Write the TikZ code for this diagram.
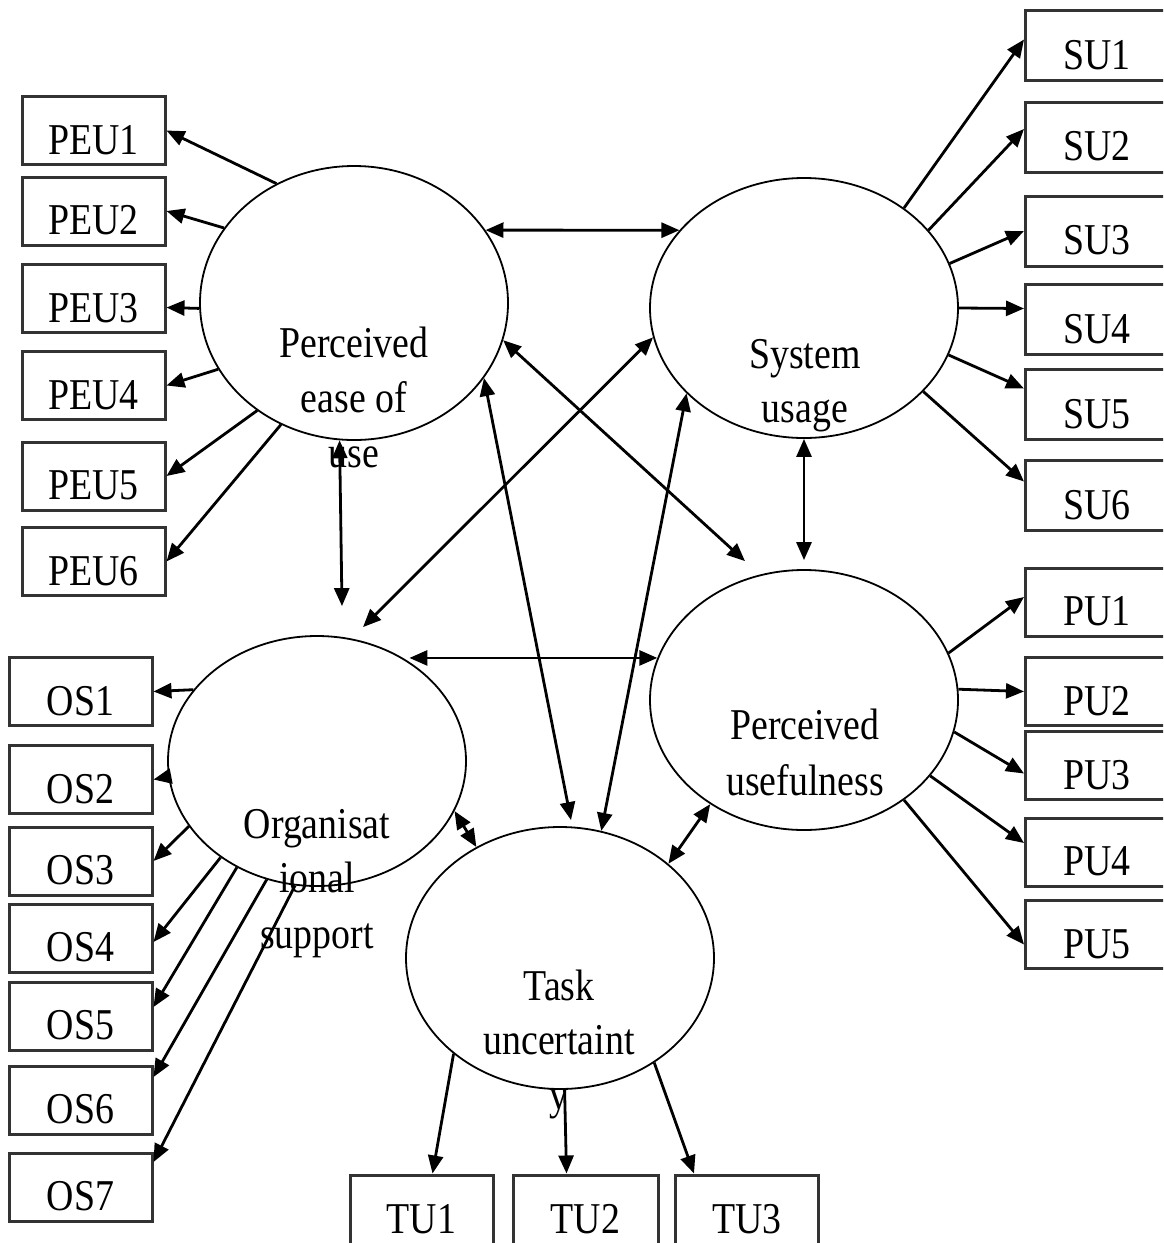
\documentclass[tikz,border=0pt]{standalone}
\usepackage{fontspec}
\setmainfont{Liberation Serif}
\usetikzlibrary{shapes.geometric,arrows.meta,calc}
% narrow the serif lettering a little
\newcommand{\nar}[1]{\scalebox{0.86}[1]{#1}}

\begin{document}
\begin{tikzpicture}[x=1pt,y=-1pt,
  latent/.style={draw, ellipse, line width=1.8pt, inner sep=0pt},
  itembox/.style={draw=black!80, line width=3pt, rectangle, minimum width=143pt,
    minimum height=68pt, inner sep=0pt, font=\fontsize{44}{50}\selectfont,
    text height=47pt, text depth=0pt},
  lbl/.style={font=\fontsize{44}{55}\selectfont, anchor=base, inner sep=0pt},
  tip/.tip={Triangle[length=18pt,width=15pt]},
  load/.style={line width=2.8pt, -tip},
  cov/.style={line width=2.8pt, tip-tip}]

\useasboundingbox (0,0) rectangle (1163,1243);
\fill[white] (0,0) rectangle (1163,1243);
\clip (0,0) rectangle (1163,1243);

% latent constructs
\node[latent, minimum width=308pt, minimum height=274pt] (peu) at (354,303) {};
\node[latent, minimum width=308pt, minimum height=260pt] (su)  at (804,308) {};
\node[latent, minimum width=308pt, minimum height=260pt] (pu)  at (804,700) {};
\node[latent, minimum width=298pt, minimum height=250pt] (os)  at (317,761) {};
\node[latent, minimum width=308pt, minimum height=262pt] (tu)  at (560,958) {};

% construct names
\node[lbl] (peuta) at (354,357) {\nar{Perceived}};
\node[lbl] (peutb) at (354,412) {\nar{ease of}};
\node[lbl] (peutc) at (354,467) {\nar{use}};
\node[lbl] (suta) at (805,368) {\nar{System}};
\node[lbl] (sutb) at (805,422) {\nar{usage}};
\node[lbl] (puta) at (805,739) {\nar{Perceived}};
\node[lbl] (putb) at (805,795) {\nar{usefulness}};
\node[lbl] (osta) at (317,838) {\nar{Organisat}};
\node[lbl] (ostb) at (317,892) {\nar{ional}};
\node[lbl] (ostc) at (317,948) {\nar{support}};
\node[lbl] (tuta) at (559,1000) {\nar{Task}};
\node[lbl] (tutb) at (559,1054) {\nar{uncertaint}};
\node[lbl] (tutc) at (559,1109) {\nar{y}};

% indicator boxes
\node[itembox] (peu1) at (93.5,130.5) {\nar{PEU1}};
\node[itembox] (peu2) at (93.5,211)   {\nar{PEU2}};
\node[itembox] (peu3) at (93.5,298.5) {\nar{PEU3}};
\node[itembox] (peu4) at (93.5,385.5) {\nar{PEU4}};
\node[itembox] (peu5) at (93.5,476)   {\nar{PEU5}};
\node[itembox] (peu6) at (93.5,561.5) {\nar{PEU6}};

\node[itembox, minimum height=70pt] (su1) at (1097,45.5)  {\nar{SU1}};
\node[itembox, minimum height=70pt] (su2) at (1097,137)   {\nar{SU2}};
\node[itembox, minimum height=70pt] (su3) at (1097,231)   {\nar{SU3}};
\node[itembox, minimum height=70pt] (su4) at (1097,319.5) {\nar{SU4}};
\node[itembox, minimum height=70pt] (su5) at (1097,404.5) {\nar{SU5}};
\node[itembox, minimum height=70pt] (su6) at (1097,495.5) {\nar{SU6}};

\node[itembox] (pu1) at (1097,602)   {\nar{PU1}};
\node[itembox] (pu2) at (1097,691.5) {\nar{PU2}};
\node[itembox] (pu3) at (1097,765.5) {\nar{PU3}};
\node[itembox] (pu4) at (1097,852)   {\nar{PU4}};
\node[itembox] (pu5) at (1097,934.5) {\nar{PU5}};

\node[itembox] (os1) at (80.5,691.5) {\nar{OS1}};
\node[itembox] (os2) at (80.5,779.5) {\nar{OS2}};
\node[itembox] (os3) at (80.5,861)   {\nar{OS3}};
\node[itembox] (os4) at (80.5,938)   {\nar{OS4}};
\node[itembox] (os5) at (80.5,1016)  {\nar{OS5}};
\node[itembox] (os6) at (80.5,1100)  {\nar{OS6}};
\node[itembox] (os7) at (80.5,1187)  {\nar{OS7}};

\node[itembox, minimum height=70pt] (tu1) at (421.5,1210) {\nar{TU1}};
\node[itembox, minimum height=70pt, minimum width=145pt] (tu2) at (585.5,1210) {\nar{TU2}};
\node[itembox, minimum height=70pt] (tu3) at (747,1210)   {\nar{TU3}};

% loadings
\draw[load] (peu.123) -- (peu1.east);
\draw[load] (peu.150) -- (peu2.east);
\draw[load] (peu.182) -- ($(peu3.east)+(0,9)$);
\draw[load] (peu.206) -- (peu4.east);
\draw[load] (peu.228) -- (peu5.east);
\draw[load] (peu.239) -- (peu6.east);

\draw[load] (su.45)  -- ($(su1.west)+(0,-6)$);
\draw[load] (su.32)  -- ($(su2.west)+(0,-8)$);
\draw[load] (su.17)  -- (su3.west);
\draw[load] (su.0)   -- ($(su4.west)+(0,-11)$);
\draw[load] (su.-18) -- ($(su5.west)+(0,-16)$);
\draw[load] (su.-35) -- ($(su6.west)+(0,-14)$);

\draw[load] (pu.18)  -- ($(pu1.west)+(0,-5)$);
\draw[load] (pu.4)   -- (pu2.west);
\draw[load] (pu.-12) -- ($(pu3.west)+(0,8)$);
\draw[load] (pu.-31) -- ($(pu4.west)+(0,-9)$);
\draw[load] (pu.-45) -- ($(pu5.west)+(0,10)$);

\draw[load] (os.150) -- (os1.east);
\draw[load] (os.186) -- (os2.east);
\draw[load] (os.207) -- (os3.east);
\draw[load] (os.225) -- ($(os4.east)+(0,4)$);
\draw[load] (os.233) -- ($(os5.east)+(0,-9)$);
\draw[load] (os.247) -- ($(os6.east)+(0,-23)$);
\draw[load] (os.260) -- ($(os7.east)+(0,-25)$);

\draw[load] (tu.222) -- ($(tu1.north)+(11,0)$);
\draw[load] (tu.272) -- ($(tu2.north)+(-19,0)$);
\draw[load] (tu.-48) -- ($(tu3.north)+(-53,0)$);

% correlations between constructs
\draw[cov] (peu.29) -- (su.148);
\draw[cov] (peu.264) -- ($(os.north)+(25,-29)$);
\draw[cov] ($(os.north)+(46,-8)$) -- (su.191);
\draw[cov] (peu.-14) -- ($(pu.north)+(-59,-8)$);
\draw[cov] (peu.-30) -- ($(tu.north)+(11,-6)$);
\draw[cov] (su.216) -- (tu.72);
\draw[cov] (su.south) -- ($(pu.north)+(0,-9)$);
\draw[cov] (os.47 |- pu.164) -- (pu.164);
\draw[cov] (os.-20) -- (tu.127);
\draw[cov] (pu.228) -- (tu.41);

\end{tikzpicture}
\end{document}
